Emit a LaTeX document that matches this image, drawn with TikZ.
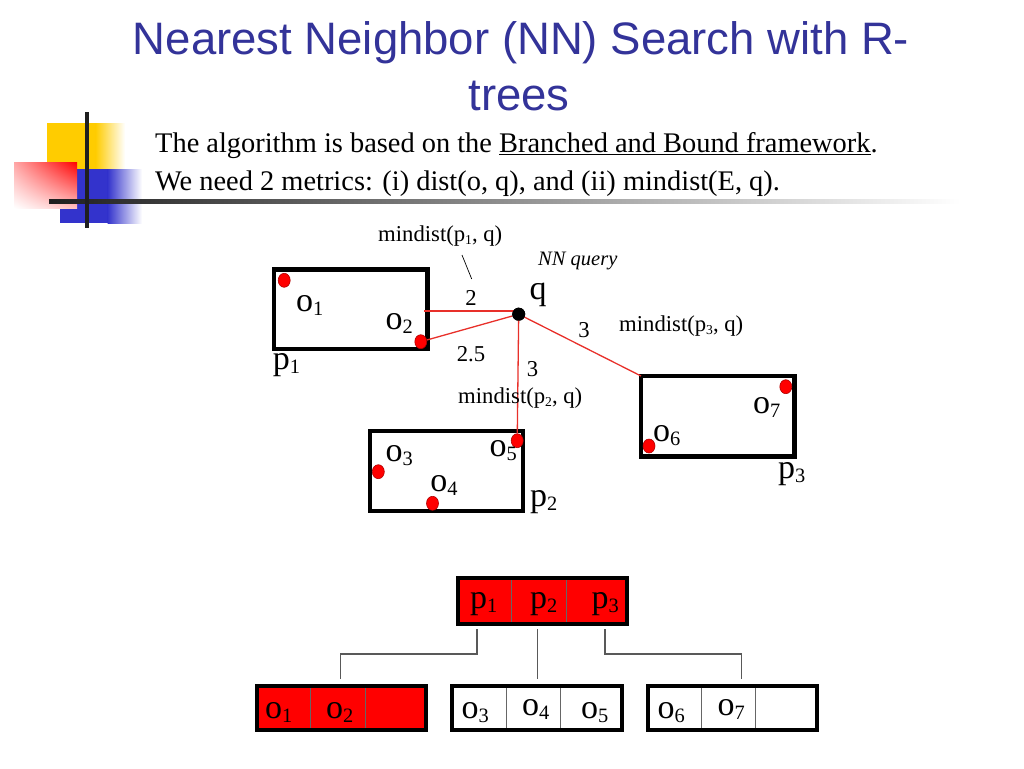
\documentclass[tikz,border=0pt]{standalone}
\usepackage{fontspec}
\setmainfont{Liberation Serif}
\newfontfamily\titlefont{Liberation Sans}
\usepackage{graphicx}
\usetikzlibrary{shapes.geometric,calc,shadings}
\definecolor{titleblue}{HTML}{333399}
\definecolor{decoyellow}{HTML}{FFCC00}
\definecolor{decoblue}{HTML}{3333CC}
\definecolor{linered}{HTML}{E8302A}
\definecolor{dotedge}{HTML}{B00000}
\newcommand\sbs[1]{\raisebox{-0.12em}{\scalebox{0.6}{#1}}}
\begin{document}
\begin{tikzpicture}[x=1pt,y=-1pt,
  ttl/.style={inner sep=0,anchor=base,text=titleblue,font=\titlefont\fontsize{45.5}{55}\selectfont},
  body/.style={inner sep=0,anchor=base west,font=\fontsize{28.4}{34}\selectfont},
  sm/.style={inner sep=0,anchor=base west,font=\fontsize{22.7}{27}\selectfont},
  smc/.style={inner sep=0,anchor=base,font=\fontsize{22.7}{27}\selectfont},
  big/.style={inner sep=0,anchor=base west,font=\fontsize{34}{40}\selectfont},
  mbr/.style={draw,line width=4.5,rectangle,inner sep=0,outer sep=0},
  dot/.style={ellipse,fill=red,draw=dotedge,line width=0.6,minimum width=12,minimum height=14,inner sep=0},
  qdot/.style={circle,fill=black,minimum size=13,inner sep=0},
  redline/.style={draw=linered,line width=1.3},
  cell/.style={rectangle,draw=black!60,line width=1,inner sep=0,outer sep=0},
  rcell/.style={cell,fill=red},
  wcell/.style={cell,fill=white},
  tbox/.style={draw=black,line width=4},
  conn/.style={draw=black!65,line width=1.1}]
\useasboundingbox (0,0) rectangle (1024,768);
% decoration
\fill[decoyellow] (47,123) rectangle (96,170);
\shade[left color=decoyellow,right color=white] (95.5,123) rectangle (125,170);
\fill[decoblue] (60,169) rectangle (108,223);
\shade[left color=decoblue,right color=white] (107.5,169) rectangle (142,223);
\shade[upper left=red!35,upper right=red,lower left=white,lower right=red!25] (14,162) rectangle (77,208);
\shade[left color=black!88,right color=white] (49,199) rectangle (960,203.5);
\draw[line width=4,black!88] (87.3,112) -- (87.3,228);
% title
\node[ttl] (t1) at (521,55) {Nearest Neighbor (NN) Search with R-};
\node[ttl] (t2) at (519,110) {trees};
\node[body] (b1) at (155,152.3) {The algorithm is based on the \underline{Branched and Bound framework}.};
\node[body] (b2) at (155,190.7) {We need 2 metrics: (i) dist(o, q), and (ii) mindist(E, q).};
% MBRs
\node[mbr,minimum width=153.5,minimum height=79.5] (P1) at (350.75,309.25) {};
\node[mbr,minimum width=153,minimum height=80] (P2) at (446.5,471) {};
\node[mbr,minimum width=153.5,minimum height=80.7] (P3) at (717.75,416.35) {};
% query and lines
\node[qdot] (q) at (518.7,314.2) {};
\node[dot] (o1) at (284.2,280.3) {};
\node[dot] (o2) at (420.8,341.7) {};
\node[dot] (o3) at (378.3,471.7) {};
\node[dot] (o4) at (432.5,503.3) {};
\node[dot] (o5) at (517.2,440.7) {};
\node[dot] (o6) at (649,446) {};
\node[dot] (o7) at (785.8,386.7) {};
\coordinate (h1) at (424,311);
\draw[redline] (h1) -- (h1 -| q.center);
\draw[redline] (o2) -- (q);
\draw[redline] (q.center) -- (P3.north west);
\draw[redline] (q.center) -- (o5);
\node[qdot] at (q) {};
% labels
\node[sm] (m1) at (378,241.7) {mindist(p\sbs{1}, q)};
\coordinate (k1) at (462,255);
\coordinate (k2) at (471.7,279);
\draw[line width=0.7] (k1) -- (k2);
\node[sm,font=\itshape\fontsize{20.5}{24}\selectfont] (nn) at (538,265) {NN query};
\node[smc] (d2) at (471,305) {2};
\node[big,anchor=base] (ql) at (538,299) {q};
\node[smc] (d3a) at (584,337) {3};
\node[sm] (m3) at (619,331.7) {mindist(p\sbs{3}, q)};
\node[smc] (d25) at (471,361) {2.5};
\node[smc] (d3b) at (532.5,376.7) {3};
\node[sm] (m2) at (458,403.3) {mindist(p\sbs{2}, q)};
\node[big] (lp1) at (272.7,369) {p\sbs{1}};
\node[big] (lo1) at (296,311.7) {o\sbs{1}};
\node[big] (lo2) at (385.5,329.3) {o\sbs{2}};
\node[big] (lo3) at (385.5,461.7) {o\sbs{3}};
\node[big] (lo4) at (430.2,491) {o\sbs{4}};
\node[big] (lo5) at (489.5,456.7) {o\sbs{5}};
\node[big] (lo6) at (652.8,441.7) {o\sbs{6}};
\node[big] (lo7) at (752.8,413.3) {o\sbs{7}};
\node[big] (lp3) at (778,478) {p\sbs{3}};
\node[big] (lp2) at (530,506.7) {p\sbs{2}};
% tree: root
\node[rcell,minimum width=54.2,minimum height=45.7] (r1) at (484.6,600.85) {};
\node[rcell,minimum width=54.6,minimum height=45.7] (r2) at (539,600.85) {};
\node[rcell,minimum width=60.7,minimum height=45.7] (r3) at (596.65,600.85) {};
\draw[tbox] (r1.north west) rectangle (r3.south east);
% leaves
\node[rcell,minimum width=53.9,minimum height=44.3] (a1) at (283.45,708.15) {};
\node[rcell,minimum width=54.9,minimum height=44.3] (a2) at (337.85,708.15) {};
\node[rcell,minimum width=60.7,minimum height=44.3] (a3) at (395.65,708.15) {};
\draw[tbox] (a1.north west) rectangle (a3.south east);
\node[wcell,minimum width=54.1,minimum height=44.3] (b1c) at (479.05,708.15) {};
\node[wcell,minimum width=54.6,minimum height=44.3] (b2c) at (533.4,708.15) {};
\node[wcell,minimum width=60.8,minimum height=44.3] (b3c) at (591.1,708.15) {};
\draw[tbox] (b1c.north west) rectangle (b3c.south east);
\node[wcell,minimum width=53.5,minimum height=44.3] (c1) at (674.25,708.15) {};
\node[wcell,minimum width=54.6,minimum height=44.3] (c2) at (728.3,708.15) {};
\node[wcell,minimum width=61.4,minimum height=44.3] (c3) at (786.3,708.15) {};
\draw[tbox] (c1.north west) rectangle (c3.south east);
% tree labels
\node[big] (tp1) at (469.8,608) {p\sbs{1}};
\node[big] (tp2) at (530,608) {p\sbs{2}};
\node[big] (tp3) at (591.4,608) {p\sbs{3}};
\node[big] (to1) at (265,718.3) {o\sbs{1}};
\node[big] (to2) at (326,718.3) {o\sbs{2}};
\node[big] (to3) at (461.5,718.3) {o\sbs{3}};
\node[big] (to4) at (521.8,715.7) {o\sbs{4}};
\node[big] (to5) at (581,718.3) {o\sbs{5}};
\node[big] (to6) at (657.3,718.3) {o\sbs{6}};
\node[big] (to7) at (717.5,715.7) {o\sbs{7}};
% connectors
\coordinate (s1) at (477,629.3);
\coordinate (s2) at (537.3,629.3);
\coordinate (s3) at (605,629.3);
\coordinate (j1) at (477,654);
\coordinate (j3) at (605,654);
\coordinate (e1) at (340.5,679.3);
\coordinate (e2) at (537.3,679.3);
\coordinate (e3) at (741.7,679.3);
\draw[conn] (s1) -- (j1) -| (e1);
\draw[conn] (s2) -- (e2);
\draw[conn] (s3) -- (j3) -| (e3);
\end{tikzpicture}
\end{document}
